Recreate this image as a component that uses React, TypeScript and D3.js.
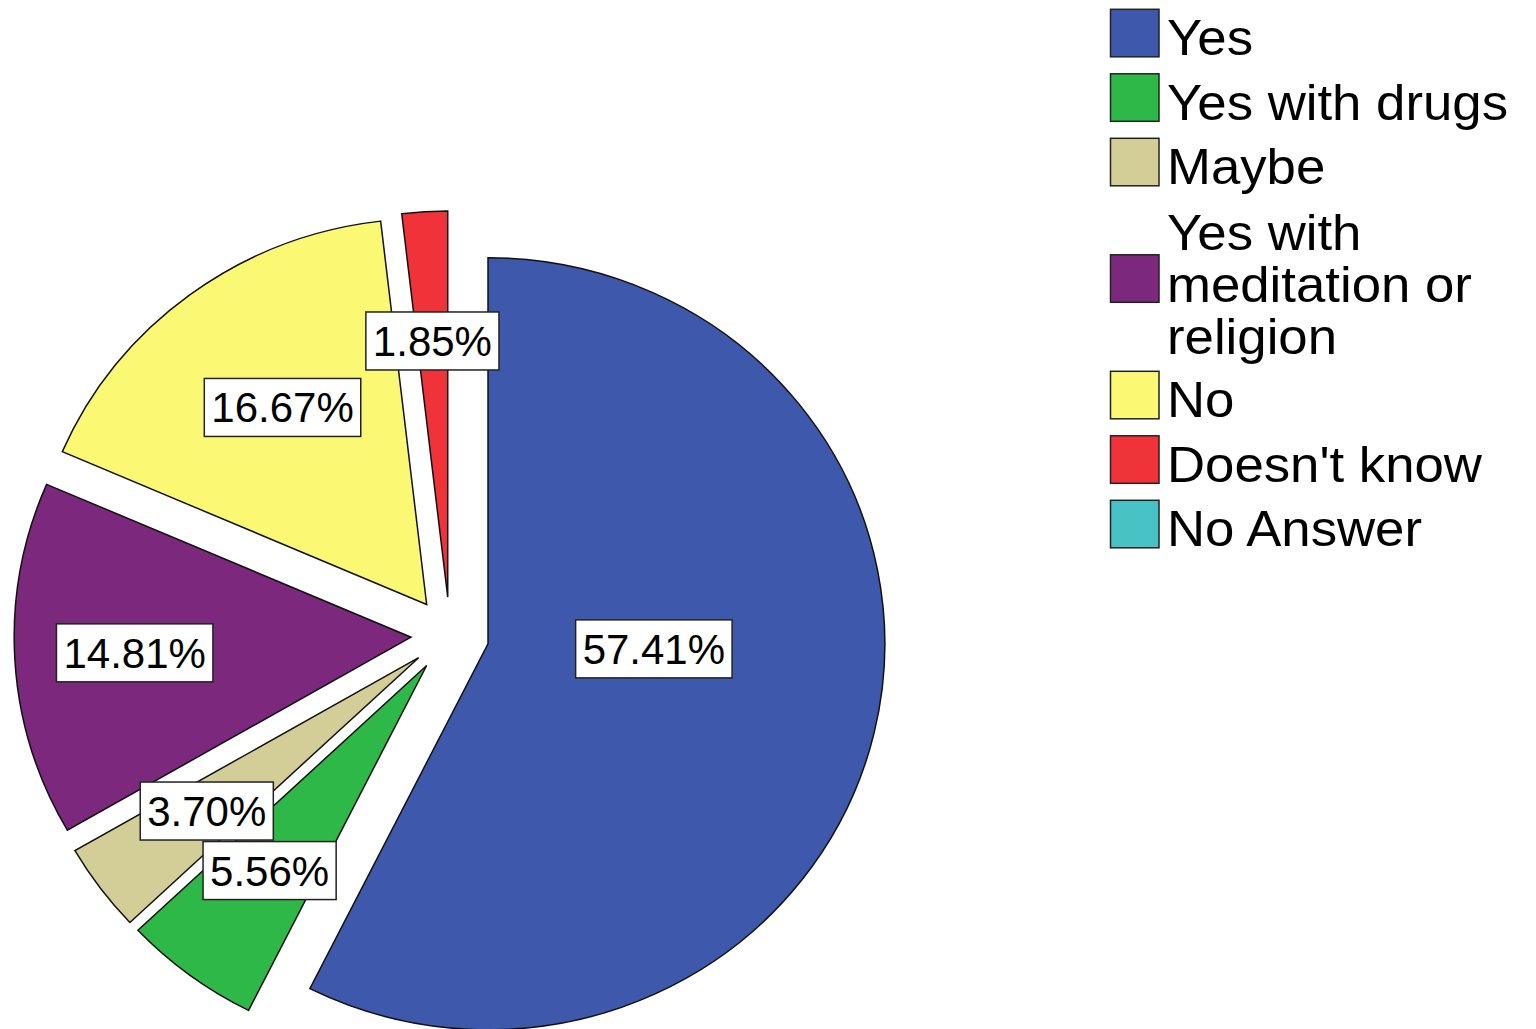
import React, { useEffect, useRef } from "react";
import * as d3 from "d3";

// ---- data ----
const categories = [
  "Yes",
  "Yes with drugs",
  "Maybe",
  "Yes with meditation or religion",
  "No",
  "Doesn't know",
  "No Answer",
];
const percents = [57.41, 5.56, 3.7, 14.81, 16.67, 1.85, 0];
const legendLines = [
  ["Yes"],
  ["Yes with drugs"],
  ["Maybe"],
  ["Yes with", "meditation or", "religion"],
  ["No"],
  ["Doesn't know"],
  ["No Answer"],
];
const colors = ["#3E58AC", "#2EB848", "#D3CE97", "#7C287D", "#FBF873", "#EF3338", "#48C2C5"];

// ---- layout ----
const W = 1536;
const H = 1029;
const CX = 450;
const CY = 635;
const R = 386;
const SX = 1.028; // horizontal stretch of the pie
const EXPLODE = 38;
// label placement: angle (deg, null = slice mid angle) and radius fraction from pie centre
const labelAngle: (number | null)[] = [94, null, null, null, 324.4, null, null];
const labelRadius = [0.515, 0.761, 0.764, 0.796, 0.725, 0.763, 0.76];
const FONT = "'Liberation Sans', Arial, Helvetica, sans-serif";
const LEGEND_FONT = 50;
const LEGEND_SX = 1.055;

export default function App() {
  const ref = useRef<SVGSVGElement | null>(null);

  useEffect(() => {
    const svg = d3.select(ref.current);
    svg.selectAll("*").remove();

    const data = categories.map((c, i) => ({ cat: c, value: percents[i], i }));
    const pie = d3
      .pie<any>()
      .sort(null)
      .value((d) => d.value);
    const arcs = pie(data).filter((a) => a.data.value > 0);
    const arc = d3.arc<any>().innerRadius(0).outerRadius(R);

    const g = svg.append("g").attr("transform", `translate(${CX},${CY}) scale(${SX},1)`);
    g.selectAll("path")
      .data(arcs)
      .enter()
      .append("path")
      .attr("d", (d) => arc(d) as string)
      .attr("transform", (d) => {
        const m = (d.startAngle + d.endAngle) / 2;
        return `translate(${Math.sin(m) * EXPLODE},${-Math.cos(m) * EXPLODE})`;
      })
      .attr("fill", (d) => colors[d.data.i])
      .attr("stroke", "#111")
      .attr("stroke-width", 1.5)
      .attr("stroke-linejoin", "miter")
      .attr("vector-effect", "non-scaling-stroke");

    // labels
    const lg = svg.append("g");
    arcs.forEach((d) => {
      const i = d.data.i;
      const m = (d.startAngle + d.endAngle) / 2;
      const a = labelAngle[i] != null ? ((labelAngle[i] as number) * Math.PI) / 180 : m;
      const r = labelRadius[i] * R;
      const x = CX + SX * Math.sin(a) * r;
      const y = CY - Math.cos(a) * r;
      const grp = lg.append("g");
      const rect = grp
        .append("rect")
        .attr("fill", "#fff")
        .attr("stroke", "#222")
        .attr("stroke-width", 1.5);
      const t = grp
        .append("text")
        .attr("x", x)
        .attr("y", y + 15)
        .attr("text-anchor", "middle")
        .attr("font-family", FONT)
        .attr("font-size", 42)
        .attr("fill", "#000")
        .text(d.data.value.toFixed(2) + "%");
      const tw = (t.node() as SVGTextElement).getComputedTextLength();
      const bw = tw + 14;
      const bh = 58;
      rect
        .attr("x", x - bw / 2)
        .attr("y", y - bh / 2)
        .attr("width", bw)
        .attr("height", bh);
    });

    // legend
    const leg = svg.append("g");
    let top = 1.05;
    const ITEM = 64.5;
    const LINE = 52;
    categories.forEach((c, i) => {
      const lines = legendLines[i];
      const h = ITEM + (lines.length - 1) * LINE;
      const center = top + h / 2;
      leg
        .append("rect")
        .attr("x", 1110.5)
        .attr("y", center - 24)
        .attr("width", 48.5)
        .attr("height", 47.5)
        .attr("fill", colors[i])
        .attr("stroke", "#222")
        .attr("stroke-width", 1.5);
      const tg = leg.append("g").attr("transform", `translate(1167,0) scale(${LEGEND_SX},1)`);
      lines.forEach((ln, k) => {
        const base = lines.length === 1 ? center + 22 : center + 23 + (k - (lines.length - 1) / 2) * LINE;
        tg.append("text")
          .attr("x", 0)
          .attr("y", base)
          .attr("font-family", FONT)
          .attr("font-size", LEGEND_FONT)
          .attr("fill", "#000")
          .text(ln);
      });
      top += h;
    });
  }, []);

  return (
    <svg
      ref={ref}
      width={W}
      height={H}
      style={{ position: "absolute", left: 0, top: 0, background: "#fff" }}
    />
  );
}
